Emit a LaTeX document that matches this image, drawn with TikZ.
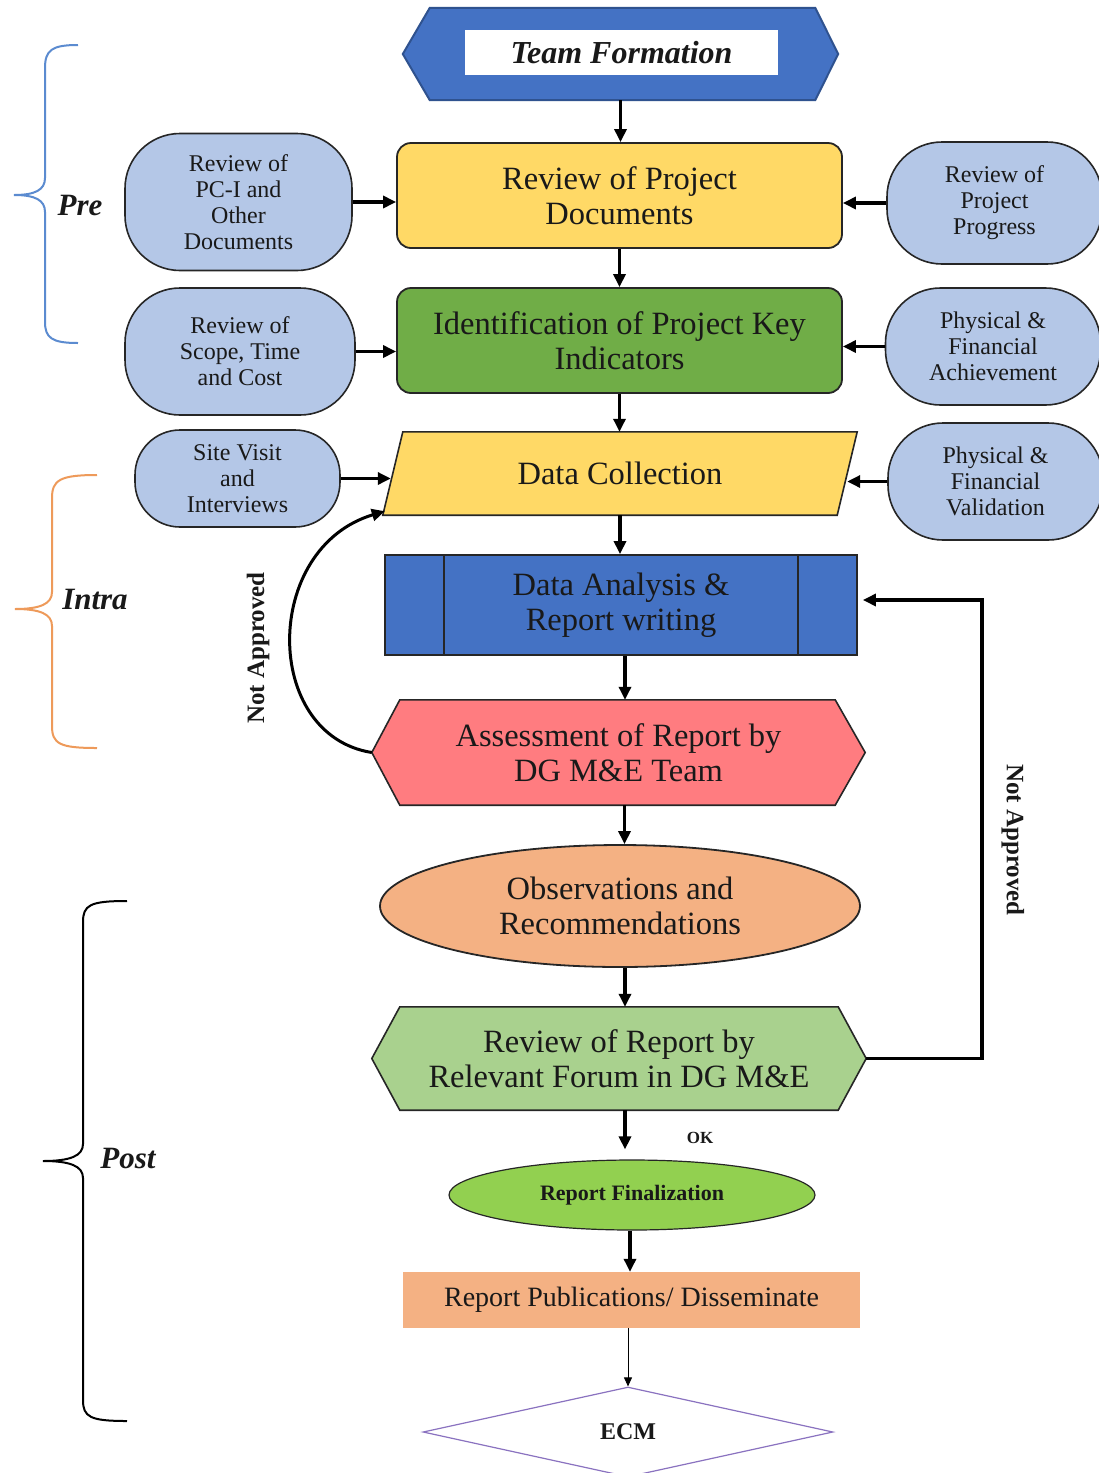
\documentclass[tikz,border=0pt]{standalone}
\usepackage{fontspec}
\setmainfont{Liberation Serif}
\usetikzlibrary{shapes.geometric,arrows.meta,backgrounds,calc}
\definecolor{hexblue}{HTML}{4472C4}
\definecolor{hexblueb}{HTML}{2F528F}
\definecolor{yel}{HTML}{FFD966}
\definecolor{grn}{HTML}{70AD47}
\definecolor{pillc}{HTML}{B4C7E7}
\definecolor{pinkc}{HTML}{FF7C80}
\definecolor{peach}{HTML}{F4B183}
\definecolor{lgrn}{HTML}{A9D18E}
\definecolor{fgrn}{HTML}{92D050}
\definecolor{purp}{HTML}{8A72C0}
\definecolor{prebr}{HTML}{5B8BD0}
\definecolor{intrabr}{HTML}{EE9A5A}
\definecolor{bord}{HTML}{262626}
\begin{document}
\begin{tikzpicture}[x=1pt,y=-1pt,
  every node/.style={text=black!90},
  mainfont/.style={font=\fontsize{32.5}{35}\selectfont},
  box/.style={mainfont, draw=bord, line width=1.8pt, align=center, inner sep=0pt},
  shapebox/.style={mainfont, align=center, inner sep=0pt},
  pill/.style={draw=bord, line width=1.6pt, fill=pillc, rounded corners=55pt, align=center,
    font=\fontsize{24}{26}\selectfont, inner sep=0pt},
  arr/.style={line width=3.2pt, -{Triangle[length=13pt,width=12pt]}},
  thinarr/.style={line width=0.9pt, -{Triangle[length=9pt,width=8pt]}},
  brace/.style={line width=2pt},
  phase/.style={font=\fontsize{31}{33}\selectfont\bfseries\itshape},
  rotlab/.style={font=\fontsize{25}{27}\selectfont\bfseries}
]
\useasboundingbox (0,0) rectangle (1099,1473);

% ---- main flow nodes ----
\node[shapebox, minimum width=435pt, minimum height=92pt] (tf) at (620.5,54) {};
\node[fill=white, minimum width=313pt, minimum height=45pt, inner sep=0pt,
  font=\fontsize{32}{34}\selectfont\bfseries\itshape] (tfw) at (621.5,52.5) {Team Formation};

\node[box, fill=yel, rounded corners=14pt, minimum width=445pt, minimum height=105pt]
  (rpd) at (619.5,195.5) {Review of Project\\Documents};
\node[box, fill=grn, rounded corners=14pt, minimum width=445pt, minimum height=105pt]
  (idf) at (619.5,340.5) {Identification of Project Key\\Indicators};
\node[shapebox, minimum width=474pt, minimum height=83pt] (dc) at (620,473.5) {Data Collection};
\node[box, fill=hexblue, minimum width=472pt, minimum height=100pt]
  (da) at (621,605) {Data Analysis \&\\Report writing};
\node[shapebox, minimum width=493pt, minimum height=105pt] (as) at (618.5,752.5)
  {Assessment of Report by\\DG M\&E Team};
\node[box, ellipse, fill=peach, minimum width=480pt, minimum height=122pt]
  (obs) at (620,906) {Observations and\\Recommendations};
\node[shapebox, minimum width=494pt, minimum height=103pt] (fr) at (619,1058.5)
  {Review of Report by\\Relevant Forum in DG M\&E};
\node[draw=bord, line width=1.2pt, ellipse, fill=fgrn, minimum width=366pt, minimum height=70pt,
  inner sep=0pt, font=\fontsize{22}{24}\selectfont\bfseries] (fin) at (632,1195) {Report Finalization};
\node[fill=peach, minimum width=457pt, minimum height=56pt, inner sep=0pt,
  font=\fontsize{28}{30}\selectfont] (pub) at (631.5,1300) {Report Publications/ Disseminate};
\node[diamond, draw=purp, line width=1.2pt, fill=white, minimum width=410pt, minimum height=90pt,
  inner sep=0pt, font=\fontsize{24}{26}\selectfont\bfseries] (ecm) at (628,1432) {ECM};

% ---- side pills ----
\node[pill, minimum width=227pt, minimum height=137pt] (p1) at (238.5,202) {Review of\\PC-I and\\Other\\Documents};
\node[pill, minimum width=215pt, minimum height=122pt] (p2) at (994.5,203) {Review of\\Project\\Progress};
\node[pill, minimum width=230pt, minimum height=127pt] (p3) at (240,351.5) {Review of\\Scope, Time\\and Cost};
\node[pill, minimum width=215pt, minimum height=117pt] (p4) at (993,346.5) {Physical \&\\Financial\\Achievement};
\node[pill, rounded corners=45pt, minimum width=205pt, minimum height=97pt] (p5) at (237.5,478.5) {Site Visit\\and\\Interviews};
\node[pill, minimum width=215pt, minimum height=117pt] (p6) at (995.5,481.5) {Physical \&\\Financial\\Validation};

% ---- shapes drawn behind the text nodes ----
\begin{pgfonlayer}{background}
  \fill[white] (0,0) rectangle (1099,1473);
  \draw[fill=hexblue, draw=hexblueb, line width=2pt] (tf.west) -- ([xshift=27pt]tf.north west)
    -- ([xshift=-23pt]tf.north east) -- (tf.east) -- ([xshift=-23pt]tf.south east)
    -- ([xshift=27pt]tf.south west) -- cycle;
  \draw[fill=yel, draw=bord, line width=1.6pt] (dc.south west) -- ([xshift=20pt]dc.north west)
    -- (dc.north east) -- ([xshift=-20pt]dc.south east) -- cycle;
  \draw[fill=pinkc, draw=bord, line width=1.6pt] (as.west) -- ([xshift=28pt]as.north west)
    -- ([xshift=-30pt]as.north east) -- (as.east) -- ([xshift=-30pt]as.south east)
    -- ([xshift=28pt]as.south west) -- cycle;
  \draw[fill=lgrn, draw=bord, line width=1.6pt] (fr.west) -- ([xshift=28pt]fr.north west)
    -- ([xshift=-28pt]fr.north east) -- (fr.east) -- ([xshift=-28pt]fr.south east)
    -- ([xshift=28pt]fr.south west) -- cycle;
\end{pgfonlayer}
\draw[bord, line width=1.6pt] ([xshift=60pt]da.north west) -- ([xshift=60pt]da.south west);
\draw[bord, line width=1.6pt] ([xshift=-60pt]da.north east) -- ([xshift=-60pt]da.south east);

% ---- main connectors ----
\draw[arr] (tf.south) -- (tf.south |- rpd.north);
\draw[arr] (rpd.south) -- (rpd.south |- idf.north);
\draw[arr] (idf.south) -- (idf.south |- dc.north);
\draw[arr] (dc.south) -- (dc.south |- da.north);
\draw[arr] ([xshift=4pt]da.south) -- ([xshift=4pt]da.south |- as.north);
\draw[arr] ([xshift=6pt]as.south) -- ([xshift=6pt]as.south |- obs.north);
\draw[arr] ([xshift=5pt]obs.south) -- ([xshift=5pt]obs.south |- fr.north);
\draw[arr, shorten >=10pt] ([xshift=6pt]fr.south) -- ([xshift=6pt]fr.south |- fin.north);
\draw[arr] ([xshift=-2pt]fin.south) -- ([xshift=-2pt]fin.south |- pub.north);
\draw[thinarr] ([xshift=-3.5pt]pub.south) -- (ecm.north);
\node[font=\fontsize{17}{19}\selectfont\bfseries] (ok) at (700,1138) {OK};

% ---- side connectors ----
\draw[arr] (p1.east) -- (p1.east -| rpd.west);
\draw[arr] (p2.west) -- (p2.west -| rpd.east);
\draw[arr] (p3.east) -- (p3.east -| idf.west);
\draw[arr] (p4.west) -- (p4.west -| idf.east);
\draw[arr] (p5.east) -- ([xshift=8pt]p5.east -| dc.west);
\draw[arr] (p6.west) -- ([xshift=-10pt]p6.west -| dc.east);

% ---- feedback loops ----
\draw[line width=3pt, -{Triangle[length=13pt,width=12pt]}] (as.west)
  .. controls (262,735) and (262,548) .. ([xshift=2pt,yshift=4pt]dc.south west);
\node[rotlab, rotate=90] (na1) at (258,648) {Not Approved};
\coordinate (loopx) at (982,600);
\draw[arr] (fr.east) -- (fr.east -| loopx) -- (loopx) -- ([xshift=5pt]loopx -| da.east);
\node[rotlab, rotate=-90] (na2) at (1013,840) {Not Approved};

% ---- phase braces ----
\draw[brace, prebr] (78,45) .. controls (52,45) and (45,50) .. (45,68) -- (45,178)
  .. controls (45,190) and (35,195) .. (14,195) .. controls (35,195) and (45,200) .. (45,212)
  -- (45,322) .. controls (45,338) and (52,343) .. (78,343);
\node[phase] (pre) at (80,205) {Pre};
\draw[brace, intrabr] (97,475) .. controls (60,475) and (52,480) .. (52,498) -- (52,592)
  .. controls (52,604) and (40,609) .. (15,609) .. controls (40,609) and (52,614) .. (52,626)
  -- (52,726) .. controls (52,744) and (60,748) .. (97,748);
\node[phase] (intra) at (95,600) {Intra};
\draw[brace, black] (127,901) .. controls (90,901) and (83,905) .. (83,922) -- (83,1144)
  .. controls (83,1156) and (70,1161) .. (43,1161) .. controls (70,1161) and (83,1166) .. (83,1178)
  -- (83,1400) .. controls (83,1417) and (90,1421) .. (127,1421);
\node[phase] (post) at (128,1158) {Post};
\end{tikzpicture}
\end{document}
